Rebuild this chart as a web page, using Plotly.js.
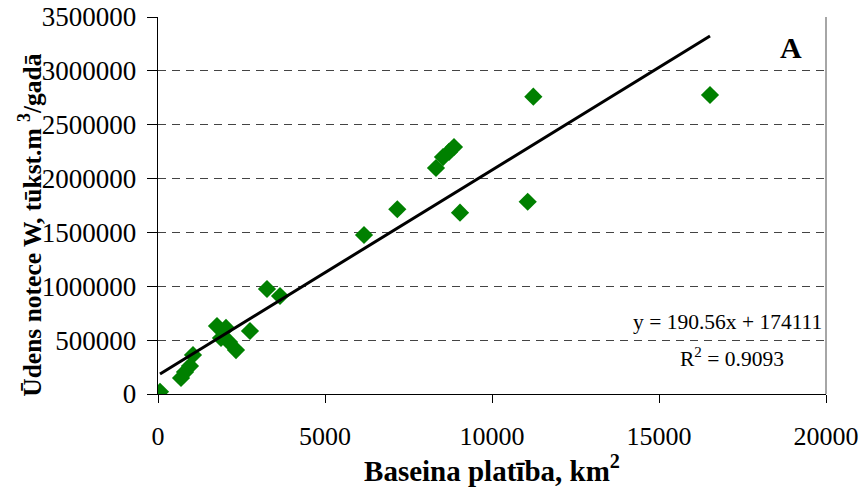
<!DOCTYPE html>
<html>
<head>
<meta charset="utf-8">
<script src="https://cdn.plot.ly/plotly-3.0.1.min.js"></script>
<style>
  html, body { margin: 0; padding: 0; background: #fff; }
  #chart { width: 864px; height: 497px; }
</style>
</head>
<body>
<div id="chart"></div>
<script>
// Basin area (km²) and annual runoff (thousand m³/year)
const basinArea = [60, 689, 808, 958, 1048, 1766, 1886, 2036, 2126, 2335, 2754,
                   3263, 3653, 6168, 7165, 8323, 8533, 8713, 8862, 9042, 11069, 11237, 16527];
const runoff = [21000, 148500, 204000, 260000, 362000, 631000, 520000, 613000, 483000, 408000, 585000,
                975000, 910000, 1476000, 1715000, 2098000, 2200000, 2247000, 2293000, 1683000, 1785000, 2760000, 2776000];

// Linear trend: y = slope * x + intercept
const slope = 190.56;
const intercept = 174111;
const rSquared = 0.9093;

const xMin = Math.min(...basinArea);
const xMax = Math.max(...basinArea);
const trendX = [xMin, xMax];
const trendY = trendX.map(x => slope * x + intercept);

const serif = 'Liberation Serif, Times New Roman, serif';

const traces = [
  {
    x: basinArea, y: runoff, type: 'scatter', mode: 'markers',
    marker: { symbol: 'diamond', size: 14, color: '#008000', line: { width: 0 } },
    hoverinfo: 'x+y'
  },
  {
    x: trendX, y: trendY, type: 'scatter', mode: 'lines',
    line: { color: '#000', width: 3 }, hoverinfo: 'skip'
  }
];

const layout = {
  width: 864, height: 497,
  margin: { l: 158, r: 38, t: 17, b: 103 },
  paper_bgcolor: '#fff', plot_bgcolor: '#fff',
  showlegend: false,
  font: { family: serif, color: '#000', size: 26 },
  xaxis: {
    range: [0, 20000], tickvals: [0, 5000, 10000, 15000, 20000], tickformat: 'd',
    showgrid: false, zeroline: false,
    showline: true, linecolor: '#000', linewidth: 1.3,
    ticks: 'outside', ticklen: 8, tickcolor: '#000', tickwidth: 1,
    ticklabelstandoff: 10,
    tickfont: { family: serif, size: 26 },
    title: { text: '<b>Baseina platība, km<sup>2</sup></b>', font: { family: serif, size: 29 }, standoff: 6 }
  },
  yaxis: {
    range: [0, 3500000], dtick: 500000, tickformat: 'd',
    showgrid: true, gridcolor: '#444', griddash: '8px,6px', gridwidth: 1,
    zeroline: false,
    showline: true, linecolor: '#000', linewidth: 1.3,
    ticks: 'outside', ticklen: 10, tickcolor: '#000', tickwidth: 1,
    ticklabelstandoff: 5,
    tickfont: { family: serif, size: 27 }
  },
  shapes: [
    { type: 'line', xref: 'paper', yref: 'paper', x0: 1, x1: 1, y0: 0, y1: 1,
      line: { color: '#888', width: 1.5 } }
  ],
  annotations: [
    // vertical axis title, placed beside the tick labels
    { xref: 'paper', yref: 'paper', x: -0.191, y: 0.45, xanchor: 'center', yanchor: 'middle',
      textangle: -90, showarrow: false,
      text: '<b>Ūdens notece W, tūkst.m <sup>3</sup>/gadā</b>', font: { family: serif, size: 25.5 } },
    { xref: 'paper', yref: 'paper', x: 0.947, y: 0.92, xanchor: 'center', yanchor: 'middle',
      showarrow: false, text: '<b>A</b>', font: { family: serif, size: 30 } },
    { xref: 'x', yref: 'y', x: 17050, y: 670000, xanchor: 'center', yanchor: 'middle',
      showarrow: false, text: 'y = ' + slope.toFixed(2) + 'x + ' + intercept, font: { family: serif, size: 21.5 } },
    { xref: 'x', yref: 'y', x: 17200, y: 335000, xanchor: 'center', yanchor: 'middle',
      showarrow: false, text: 'R<sup>2</sup> = ' + rSquared.toFixed(4), font: { family: serif, size: 21.5 } }
  ]
};

Plotly.newPlot('chart', traces, layout, { displayModeBar: false, staticPlot: true });
</script>
</body>
</html>
